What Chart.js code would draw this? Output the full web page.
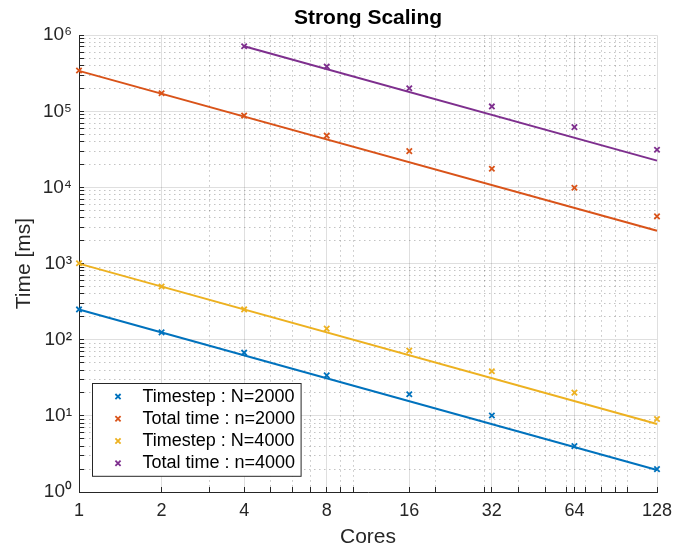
<!DOCTYPE html>
<html>
<head>
<meta charset="utf-8">
<title>Strong Scaling</title>
<script src="https://cdn.jsdelivr.net/npm/chart.js@4.4.1/dist/chart.umd.min.js"></script>
<style>
    html, body { margin: 0; padding: 0; background: #fff; }
    #wrap { width: 674px; height: 550px; }
</style>
</head>
<body>
<div id="wrap"><canvas id="myChart" width="674" height="550"></canvas></div>
<script>
// measured points
let cores = [1, 2, 4, 8, 16, 32, 64, 128];
let cores4000 = [4, 8, 16, 32, 64, 128];
let timestep2000 = [250, 125, 67.6, 34, 19.2, 10.1, 4.0, 2.0];
let total2000 = [344000, 173000, 88000, 48000, 30000, 17600, 9900, 4170];
let timestep4000 = [1010, 500, 250, 140, 72, 38.5, 20.2, 9.1];
let total4000 = [717000, 388000, 201000, 116000, 62000, 31300];

// ideal scaling lines (end points)
let idealCores = [1, 128];
let idealCores4000 = [4, 128];
let idealTimestep2000 = [250, 1.95];
let idealTotal2000 = [340000, 2700];
let idealTimestep4000 = [1000, 7.8];
let idealTotal4000 = [717000, 22500];

let labels = ['Timestep : N=2000', 'Total time : n=2000', 'Timestep : N=4000', 'Total time : n=4000'];
let colors = ['#0072BD', '#D95319', '#EDB120', '#7E2F8E'];

// axes
let xTicks = [1, 2, 4, 8, 16, 32, 64, 128];
let xMinor = [1, 2, 3, 4, 5, 6, 7, 8, 9, 10, 20, 30, 40, 50, 60, 70, 80, 90, 100];
let yTicks = [1, 10, 100, 1000, 10000, 100000, 1000000];
let yMinorSteps = [2, 3, 4, 5, 6, 7, 8, 9];
let sup = ['⁰', '¹', '²', '³', '⁴', '⁵', '⁶'];

let xMarks = xMinor.concat(xTicks).filter((v, i, a) => a.indexOf(v) === i).sort((a, b) => a - b);
let yMarks = [];
yTicks.forEach(d => {
    yMarks.push(d);
    if (d < 1000000) yMinorSteps.forEach(s => yMarks.push(d * s));
});

function pts(xs, ys) {
    return xs.map((x, i) => ({ x: x, y: ys[i] }));
}

const fontFam = '"Liberation Sans", Arial, Helvetica, sans-serif';
const axisCol = '#262626';
const gridCol = 'rgba(38,38,38,0.15)';
const minorCol = 'rgba(38,38,38,0.28)';

function scatterSet(i, xs, ys) {
    return {
        label: labels[i],
        inLegend: true,
        data: pts(xs, ys),
        showLine: false,
        pointStyle: 'crossRot',
        pointRadius: 3.8,
        pointBorderWidth: 1.8,
        borderColor: colors[i],
        backgroundColor: colors[i],
        clip: false
    };
}

function idealSet(i, xs, ys) {
    return {
        label: '',
        inLegend: false,
        data: pts(xs, ys),
        showLine: true,
        pointRadius: 0,
        borderWidth: 2,
        borderColor: colors[i],
        backgroundColor: colors[i],
        clip: false
    };
}

// legend in a box, inside the plot, bottom-left
const boxLegend = {
    id: 'boxLegend',
    afterDatasetsDraw(chart) {
        const ctx = chart.ctx;
        const area = chart.chartArea;
        const items = chart.data.datasets.filter(d => d.inLegend);
        const rowH = 22.2;
        ctx.save();
        ctx.font = '18px ' + fontFam;
        let textW = Math.max(...items.map(d => ctx.measureText(d.label).width));
        let w = 50 + textW + 6;
        let h = rowH * items.length + 4;
        let left = Math.round(area.left + 13) + 0.5;
        let top = Math.round(area.bottom - 16 - h) + 0.5;
        ctx.fillStyle = '#fff';
        ctx.fillRect(left, top, w, h);
        ctx.strokeStyle = axisCol;
        ctx.lineWidth = 1;
        ctx.strokeRect(left, top, w, h);
        items.forEach((d, i) => {
            let cy = top + 2 + rowH * (i + 0.5);
            let cx = left + 25.5;
            ctx.strokeStyle = d.borderColor;
            ctx.lineWidth = 1.8;
            ctx.beginPath();
            ctx.moveTo(cx - 2.6, cy - 2.6);
            ctx.lineTo(cx + 2.6, cy + 2.6);
            ctx.moveTo(cx - 2.6, cy + 2.6);
            ctx.lineTo(cx + 2.6, cy - 2.6);
            ctx.stroke();
            ctx.fillStyle = '#000';
            ctx.textBaseline = 'middle';
            ctx.textAlign = 'left';
            ctx.fillText(d.label, left + 50, cy);
        });
        ctx.restore();
    }
};

var ctx = document.getElementById('myChart').getContext('2d');

new Chart(ctx, {
    type: 'scatter',
    data: {
        datasets: [
            scatterSet(0, cores, timestep2000),
            scatterSet(1, cores, total2000),
            scatterSet(2, cores, timestep4000),
            scatterSet(3, cores4000, total4000),
            idealSet(0, idealCores, idealTimestep2000),
            idealSet(1, idealCores, idealTotal2000),
            idealSet(2, idealCores, idealTimestep4000),
            idealSet(3, idealCores4000, idealTotal4000)
        ]
    },
    options: {
        responsive: false,
        animation: false,
        layout: {
            padding: { top: 0, right: 17, bottom: 0, left: 0 }
        },
        scales: {
            x: {
                type: 'logarithmic',
                position: 'bottom',
                weight: 1,
                min: 1,
                max: 128,
                afterBuildTicks: s => { s.ticks = xTicks.map(v => ({ value: v })); },
                afterFit: s => { s.height = 58; s.paddingLeft = 0; s.paddingRight = 0; },
                ticks: {
                    autoSkip: false,
                    maxRotation: 0,
                    padding: 8,
                    color: axisCol,
                    font: { family: fontFam, size: 18 },
                    callback: v => String(v)
                },
                grid: { color: gridCol, drawTicks: false },
                border: { color: axisCol, width: 1 },
                title: {
                    display: true,
                    text: 'Cores',
                    color: axisCol,
                    font: { family: fontFam, size: 21 },
                    padding: { top: 0, bottom: 0 }
                }
            },
            xMinor: {
                type: 'logarithmic',
                position: 'bottom',
                weight: 0,
                min: 1,
                max: 128,
                afterBuildTicks: s => { s.ticks = xMarks.map(v => ({ value: v })); },
                afterFit: s => { s.height = 0; s.paddingLeft = 0; s.paddingRight = 0; },
                ticks: { display: false },
                grid: {
                    color: c => (c.tick && xTicks.includes(c.tick.value)) ? 'rgba(0,0,0,0)' : minorCol,
                    tickColor: axisCol,
                    tickWidth: 1,
                    tickLength: -5
                },
                border: { display: false, dash: [1.5, 3.5] }
            },
            y: {
                type: 'logarithmic',
                position: 'left',
                weight: 1,
                min: 1,
                max: 1000000,
                afterBuildTicks: s => { s.ticks = yTicks.map(v => ({ value: v })); },
                afterFit: s => { s.width = 79; s.paddingTop = 0; s.paddingBottom = 0; },
                ticks: {
                    padding: 7,
                    color: axisCol,
                    font: { family: fontFam, size: 19 },
                    callback: v => '10' + sup[Math.round(Math.log10(v))]
                },
                grid: { color: gridCol, drawTicks: false },
                border: { color: axisCol, width: 1 },
                title: {
                    display: true,
                    text: 'Time [ms]',
                    color: axisCol,
                    font: { family: fontFam, size: 21 },
                    padding: { top: 12, bottom: 0 }
                }
            },
            yMinor: {
                type: 'logarithmic',
                position: 'left',
                weight: 0,
                min: 1,
                max: 1000000,
                afterBuildTicks: s => { s.ticks = yMarks.map(v => ({ value: v })); },
                afterFit: s => { s.width = 0; s.paddingTop = 0; s.paddingBottom = 0; },
                ticks: { display: false },
                grid: {
                    color: c => (c.tick && yTicks.includes(c.tick.value)) ? 'rgba(0,0,0,0)' : minorCol,
                    tickColor: axisCol,
                    tickWidth: 1,
                    tickLength: -5
                },
                border: { display: false, dash: [1.5, 3.5] }
            }
        },
        plugins: {
            legend: { display: false },
            tooltip: { enabled: false },
            title: {
                display: true,
                text: 'Strong Scaling',
                fullSize: false,
                color: '#000',
                font: { family: fontFam, size: 21, weight: 'bold' },
                padding: { top: 6, bottom: 4 }
            }
        }
    },
    plugins: [boxLegend]
});
</script>
</body>
</html>
